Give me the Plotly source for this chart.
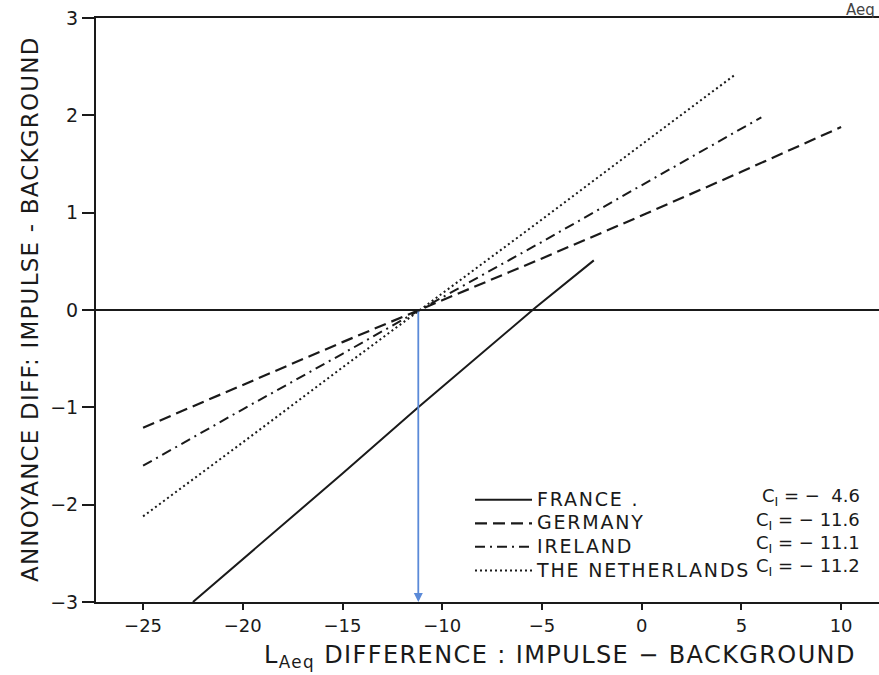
import plotly.graph_objects as go

# ---- data ----
france_x = [-22.5, -20, -15, -11.2, -5.35, -2.4]
france_y = [-3.0, -2.56, -1.68, -1.0, 0.02, 0.51]

germany_x = [-25, -20, -15, -10, -5, 0, 5, 10]
germany_y = [-1.21, -0.77, -0.33, 0.10, 0.53, 0.97, 1.42, 1.88]

ireland_x = [-25, -20, -15, -10, -5, 0, 6]
ireland_y = [-1.60, -1.02, -0.45, 0.13, 0.70, 1.28, 1.98]

nether_x = [-25, -20, -15, -10, -5, 0, 4.7]
nether_y = [-2.12, -1.36, -0.59, 0.17, 0.93, 1.70, 2.42]

names = ["FRANCE .", "GERMANY", "IRELAND", "THE NETHERLANDS"]
ci_labels = ["C<sub>I</sub> = −  4.6", "C<sub>I</sub> = − 11.6",
             "C<sub>I</sub> = − 11.1", "C<sub>I</sub> = − 11.2"]

crossing_x = -11.2  # blue marker of the crossing point

x_ticks = [-25, -20, -15, -10, -5, 0, 5, 10]
y_ticks = [-3, -2, -1, 0, 1, 2, 3]

INK = "#1a1a1a"
FONT = "DejaVu Sans"


def spaced(t, size, ls):
    return f'<span style="font-size:{size}px;letter-spacing:{ls}px">{t}</span>'


fig = go.Figure()
fig.add_trace(go.Scatter(x=france_x, y=france_y, mode="lines", name=spaced(names[0], 19, 1.8),
                         line=dict(color=INK, width=2, dash="solid")))
fig.add_trace(go.Scatter(x=germany_x, y=germany_y, mode="lines", name=spaced(names[1], 19, 1.8),
                         line=dict(color=INK, width=2.2, dash="12px,6px")))
fig.add_trace(go.Scatter(x=ireland_x, y=ireland_y, mode="lines", name=spaced(names[2], 19, 1.8),
                         line=dict(color=INK, width=2, dash="10px,5px,2px,5px")))
fig.add_trace(go.Scatter(x=nether_x, y=nether_y, mode="lines", name=spaced(names[3], 19, 1.8),
                         line=dict(color=INK, width=2, dash="2px,3px")))

W, H = 879, 675
L, R, T, B = 96, 0, 18, 73
pw, ph = W - L - R, H - T - B


def px(xp):
    return (xp - L) / pw


def py(yp):
    return (H - B - yp) / ph


annotations = []
# blue arrow from the zero crossing down to the axis
annotations.append(dict(x=crossing_x, y=-3, ax=crossing_x, ay=0, xref="x", yref="y",
                        axref="x", ayref="y", showarrow=True, arrowhead=2, arrowsize=1,
                        arrowwidth=1.8, arrowcolor="#5b8ad8", text=""))
# C_I values beside the legend
rows = [497, 520.5, 544, 567]
for lab, r in zip(ci_labels, rows):
    annotations.append(dict(x=px(862), y=py(r), xref="paper", yref="paper",
                            xanchor="right", yanchor="middle", showarrow=False,
                            text=lab, font=dict(family=FONT, size=18, color=INK)))
# axis titles
annotations.append(dict(x=px(262), y=py(656), xref="paper", yref="paper",
                        xanchor="left", yanchor="middle", showarrow=False,
                        text=spaced("L<sub>Aeq</sub> DIFFERENCE : IMPULSE − BACKGROUND", 24, 1.4),
                        font=dict(family=FONT, size=24, color=INK)))
annotations.append(dict(x=px(30), y=py(309), xref="paper", yref="paper",
                        xanchor="center", yanchor="middle", showarrow=False,
                        textangle=-90,
                        text=spaced("ANNOYANCE DIFF: IMPULSE - BACKGROUND", 23, 1.2),
                        font=dict(family=FONT, size=23, color=INK)))
# text remnant at top right
annotations.append(dict(x=px(877), y=py(10), xref="paper", yref="paper",
                        xanchor="right", yanchor="middle", showarrow=False,
                        text="Aeq", font=dict(family=FONT, size=15, color="#444")))

fig.update_layout(
    width=W, height=H,
    margin=dict(l=L, r=R, t=T, b=B),
    paper_bgcolor="white", plot_bgcolor="white",
    font=dict(family=FONT, color=INK),
    showlegend=True,
    legend=dict(x=px(470), y=py(483), xanchor="left", yanchor="top",
                bgcolor="rgba(0,0,0,0)", borderwidth=0,
                font=dict(family=FONT, size=15.8, color=INK),
                itemwidth=57, tracegroupgap=0),
    annotations=annotations,
    xaxis=dict(range=[-27.36, 11.9], tickmode="array", tickvals=x_ticks,
               showgrid=False, zeroline=False, showline=True, linecolor=INK,
               linewidth=2, mirror=True, ticks="outside", ticklen=6, tickwidth=1.5,
               tickcolor=INK, tickfont=dict(family=FONT, size=18, color=INK)),
    yaxis=dict(range=[-3, 3], tickmode="array", tickvals=y_ticks,
               showgrid=False, zeroline=True, zerolinecolor=INK, zerolinewidth=1.5,
               showline=True, linecolor=INK, linewidth=2,
               ticks="outside", ticklen=12, tickwidth=1.5, tickcolor=INK,
               tickfont=dict(family=FONT, size=19, color=INK)),
)

fig.write_html("out.html")
